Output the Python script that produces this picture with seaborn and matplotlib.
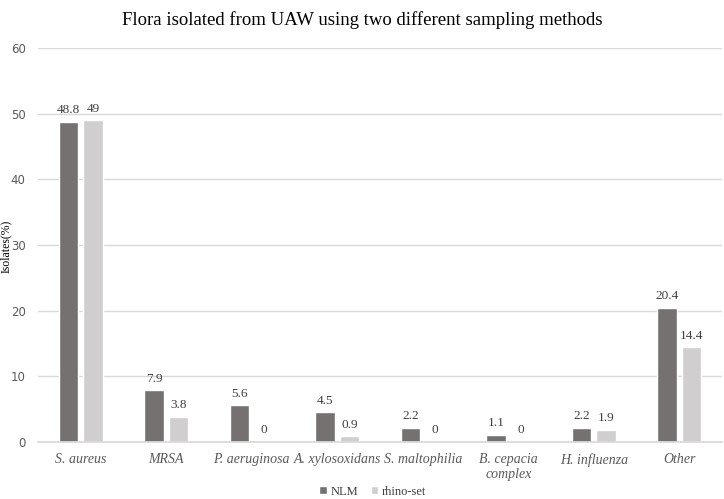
import matplotlib
matplotlib.use("Agg")
import matplotlib.pyplot as plt
import seaborn as sns
import pandas as pd

categories = ["S. aureus", "MRSA", "P. aeruginosa", "A. xylosoxidans",
              "S. maltophilia", "B. cepacia\ncomplex", "H. influenza", "Other"]
nlm = [48.8, 7.9, 5.6, 4.5, 2.2, 1.1, 2.2, 20.4]
rhino = [49, 3.8, 0, 0.9, 0, 0, 1.9, 14.4]
series = ["NLM", "rhino-set"]
colors = ["#767171", "#D0CECE"]
yticks = [0, 10, 20, 30, 40, 50, 60]

df = pd.DataFrame({
    "cat": categories * 2,
    "val": nlm + rhino,
    "series": [series[0]] * len(categories) + [series[1]] * len(categories),
})

sns.set_theme(style="white")
plt.rcParams["font.family"] = ["Liberation Serif", "DejaVu Serif"]

fig = plt.figure(figsize=(7.24, 4.99), dpi=100)
ax = fig.add_axes([38 / 724, 1 - 442 / 499, (722 - 38) / 724, (442 - 48) / 499])

sns.barplot(data=df, x="cat", y="val", hue="series", palette=colors,
            width=0.574, gap=0.2, ax=ax, legend=True, saturation=1)

for cont in ax.containers:
    labels = [("%g" % v) for v in cont.datavalues]
    ax.bar_label(cont, labels=labels, padding=4, fontsize=9.5, color="#404040")

ax.set_xlim(-0.5, 7.5)
ax.set_ylim(0, 60)
ax.set_yticks(yticks)
ax.set_yticklabels([str(t) for t in yticks], fontsize=8.5, color="#595959",
                   family=["DejaVu Sans"])
ax.tick_params(axis="y", length=0, pad=9)
ax.tick_params(axis="x", length=0, pad=8)
for lab in ax.get_xticklabels():
    lab.set_fontstyle("italic")
    lab.set_fontsize(10)
    lab.set_color("#595959")
ax.grid(axis="y", color="#D9D9D9", linewidth=1)
ax.set_axisbelow(True)
for s in ["top", "right", "left"]:
    ax.spines[s].set_visible(False)
ax.spines["bottom"].set_color("#D9D9D9")
ax.set_xlabel("")
ax.set_ylabel("")
fig.text(6 / 724, 1 - 246 / 499, "Isolates(%)", rotation=90, fontsize=8.5,
         color="#000000", ha="center", va="center")

fig.text(0.5, 1 - 20 / 499,
         "Flora isolated from UAW using two different sampling methods",
         ha="center", va="center", fontsize=13.5, color="#000000")

leg = ax.get_legend()
handles = leg.legend_handles
leg.remove()
fig.legend(handles, series, loc="lower center", bbox_to_anchor=(0.515, -0.02),
           ncol=2, frameon=False, fontsize=9, handlelength=0.6, handleheight=0.6,
           handletextpad=0.3, columnspacing=1.0, labelcolor="#404040")

fig.savefig("out.png", dpi=100)
